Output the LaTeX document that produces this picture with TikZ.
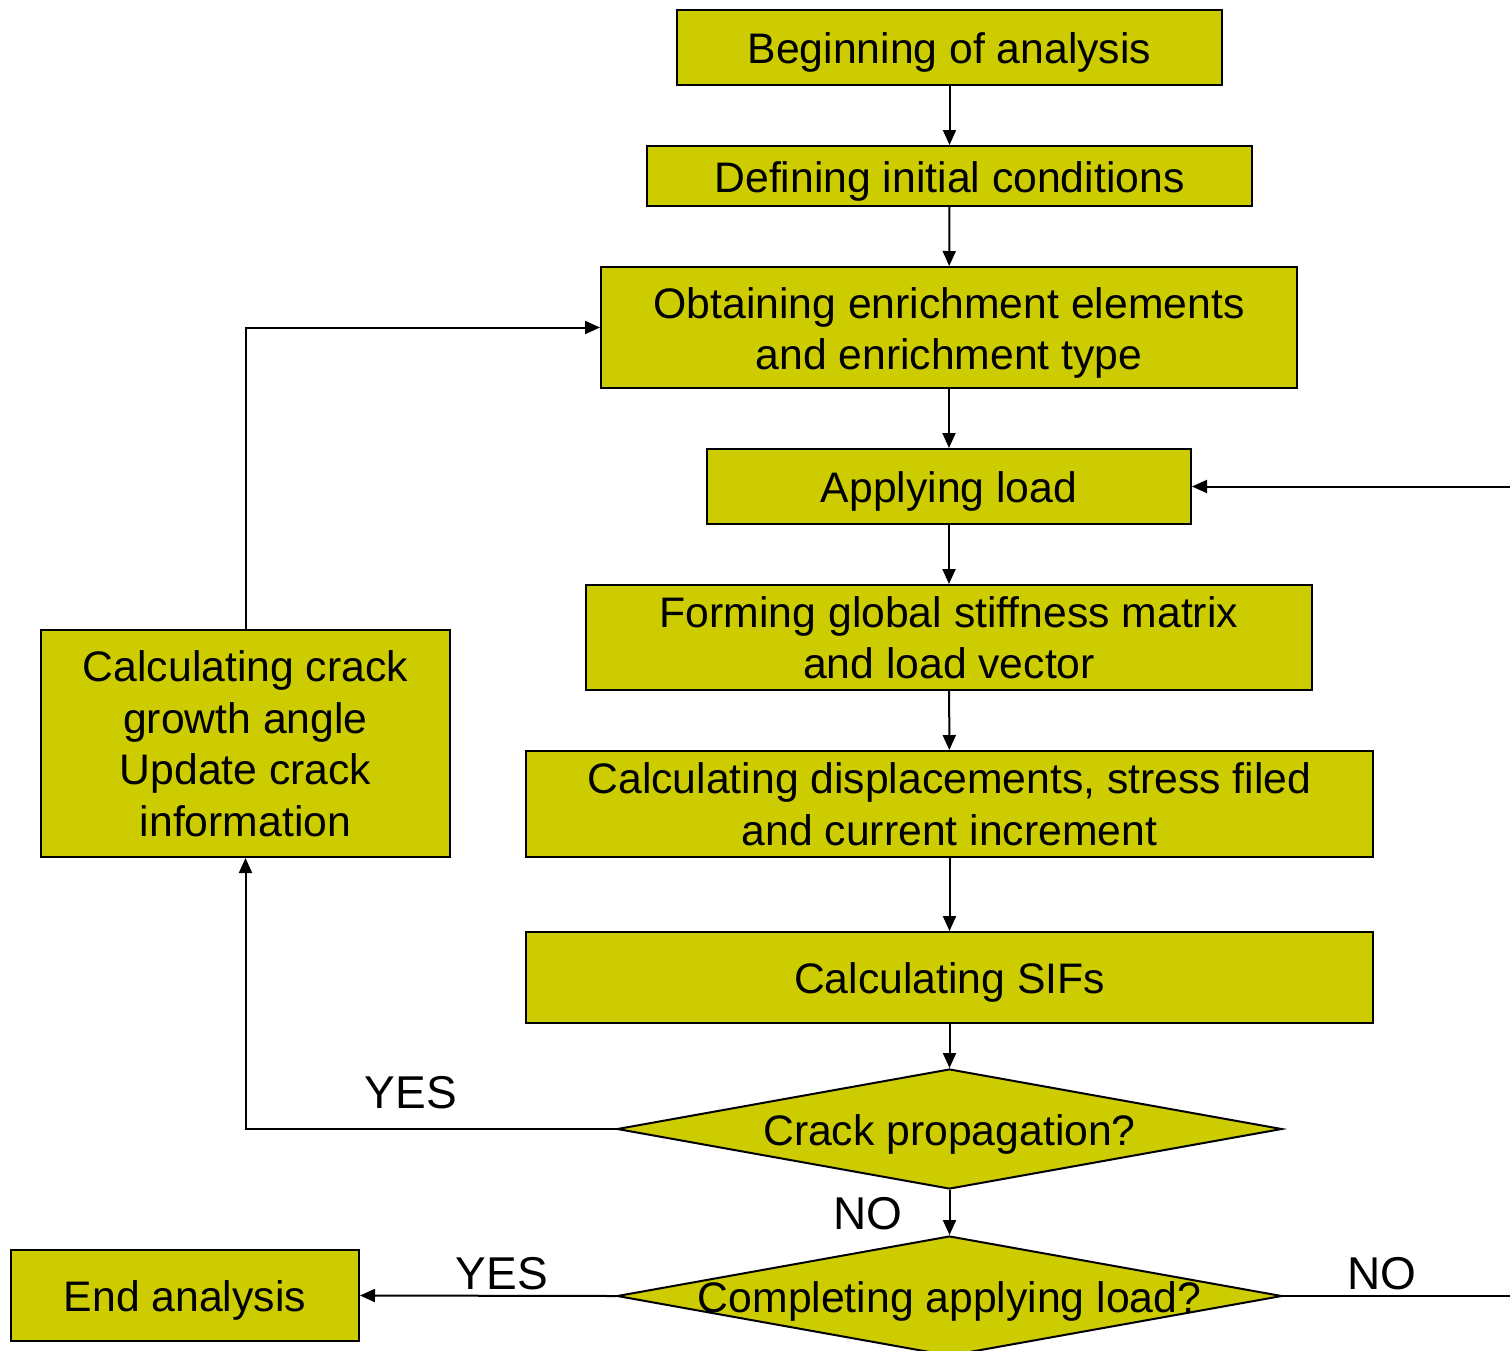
\documentclass[tikz,border=0pt]{standalone}
\usepackage{fontspec}
\setmainfont{Liberation Sans}
\usetikzlibrary{shapes.geometric,arrows.meta}
\definecolor{boxfill}{RGB}{204,204,0}
\begin{document}
\begin{tikzpicture}[x=1pt,y=-1pt,
  box/.style={draw=black,line width=2pt,fill=boxfill,inner sep=0pt,align=center,
    font=\fontsize{42.7}{51.5}\selectfont,execute at begin node={\rule{0pt}{41pt}}},
  dia/.style={diamond,draw=black,line width=2pt,fill=boxfill,inner sep=0pt,aspect=5.5},
  lbl/.style={font=\fontsize{42.7}{51.5}\selectfont},
  yn/.style={font=\fontsize{46}{52}\selectfont},
  conn/.style={line width=2pt,-{Triangle[length=15pt,width=13pt]}},
  line/.style={line width=2pt}]
\useasboundingbox (0,0) rectangle (1510,1350);
\clip (0,0) rectangle (1510,1350);

\node[box,minimum width=545pt,minimum height=75pt] (begin) at (949.5,47.5) {Beginning of analysis};
\node[box,minimum width=605pt,minimum height=60pt] (init) at (949.5,176) {Defining initial conditions};
\node[box,minimum width=696pt,minimum height=121pt] (enrich) at (949,327.5) {\rule{0pt}{42pt}Obtaining enrichment elements\\and enrichment type};
\node[box,minimum width=484pt,minimum height=75pt] (load) at (949,486.5) {Applying load};
\node[box,minimum width=726pt,minimum height=105pt] (stiff) at (949,637.5) {Forming global stiffness matrix\\and load vector};
\node[box,minimum width=847pt,minimum height=106pt] (disp) at (949.5,804) {Calculating displacements, stress filed\\and current increment};
\node[box,minimum width=847pt,minimum height=91pt] (sif) at (949.5,977.5) {Calculating SIFs};
\node[dia,minimum width=665pt,minimum height=120pt] (crack) at (949.5,1129) {};
\node[lbl] at ([yshift=-5pt]crack) {Crack propagation?};
\node[dia,minimum width=665pt,minimum height=120pt] (compl) at (949.5,1296) {};
\node[lbl] at ([yshift=-5pt]compl) {Completing applying load?};
\node[box,minimum width=409pt,minimum height=227pt] (angle) at (245.5,743.5) {Calculating crack\\growth angle\\Update crack\\information};
\node[box,minimum width=348pt,minimum height=91pt] (end) at (185,1295.5) {End analysis};

\coordinate (rightedge) at (1512,1296);

\draw[conn] (begin) -- (init);
\draw[conn] (init) -- (enrich);
\draw[conn] (enrich) -- (load);
\draw[conn] (load) -- (stiff);
\draw[conn] (stiff) -- (disp);
\draw[conn] (disp) -- (sif);
\draw[conn] (sif) -- (crack.north);
\draw[conn] (crack.south) -- (compl.north);
\draw[conn] (crack.west) -| (angle.south);
\draw[conn] (angle.north) |- (enrich.west);
\draw[conn] (compl.west) -- (end.east);
\draw[conn] (compl.east) -- (rightedge) |- (load.east);

\node[yn] (yes1) at (411,1093) {YES};
\node[yn] (no1) at (868,1214) {NO};
\node[yn] (yes2) at (502,1274) {YES};
\node[yn] (no2) at (1382,1274) {NO};
\end{tikzpicture}
\end{document}
